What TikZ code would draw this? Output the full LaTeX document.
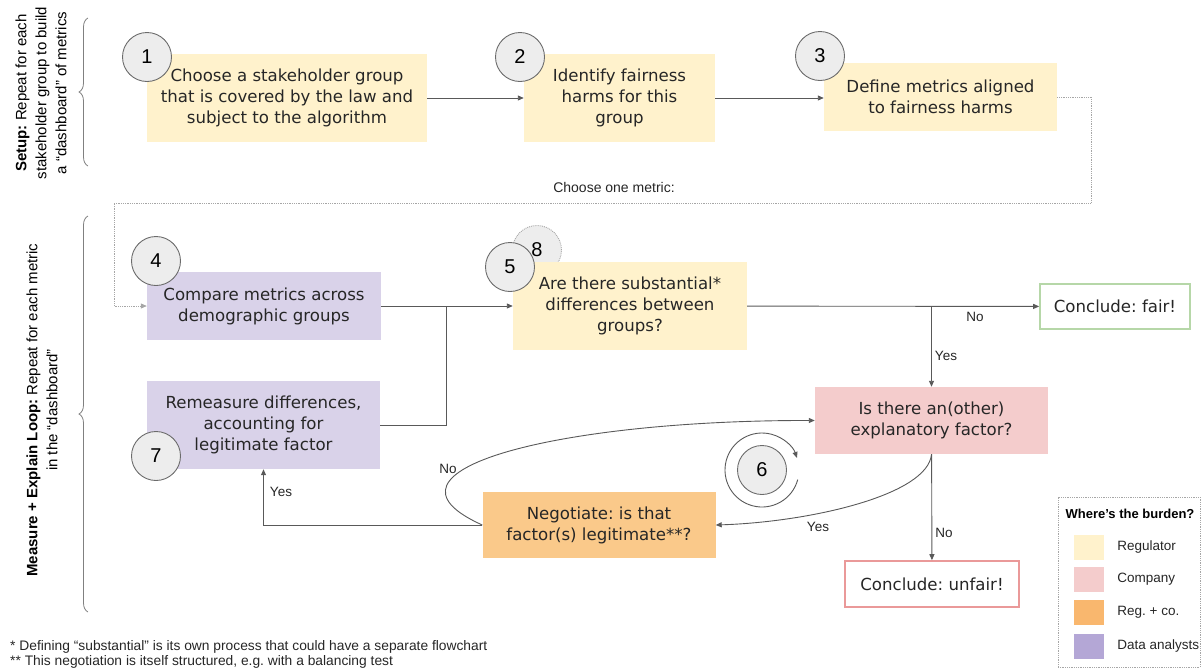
\documentclass[tikz,border=0pt]{standalone}
\usepackage{fontspec}
\setmainfont{Liberation Sans}
\newfontfamily\boxfont{DejaVu Sans}
\usetikzlibrary{positioning,arrows.meta,decorations.pathreplacing}
\definecolor{regyellow}{HTML}{FFF2CC}
\definecolor{copink}{HTML}{F4CCCC}
\definecolor{bothorange}{HTML}{FAC98A}
\definecolor{bothswatch}{HTML}{F9B76E}
\definecolor{analyst}{HTML}{D9D2E9}
\definecolor{analystswatch}{HTML}{B4A7D6}
\definecolor{fairgreen}{HTML}{B6D7A8}
\definecolor{unfairred}{HTML}{EA9999}
\definecolor{linegray}{HTML}{595959}
\definecolor{numgray}{HTML}{6B6B6B}
\definecolor{numfill}{HTML}{EDEDED}
\definecolor{textgray}{HTML}{262626}
\frenchspacing

\begin{document}
\begin{tikzpicture}[x=1pt, y=-1pt,
  font=\fontsize{13.5}{16}\selectfont,
  every node/.style={inner sep=0pt},
  stepbox/.style={align=center, text=textgray, font=\boxfont\fontsize{16.6}{21}\selectfont},
  endbox/.style={stepbox, fill=white, line width=1.6pt},
  num/.style={circle, draw=numgray, fill=numfill, line width=0.9pt, minimum size=49pt, font=\fontsize{20}{20}\selectfont},
  lbl/.style={text=textgray},
  arr/.style={draw=linegray, line width=0.9pt, -{Triangle[length=6pt,width=5pt]}},
  ln/.style={draw=linegray, line width=0.9pt},
  dotarr/.style={draw=gray!70, line width=0.8pt, densely dotted, -{Triangle[length=6pt,width=5pt]}},
  swatch/.style={minimum width=30pt, minimum height=25pt},
  brc/.style={draw=gray, line width=0.8pt, decorate, decoration={brace, amplitude=9pt}},
]
\useasboundingbox (0,0) rectangle (1203,670);

% side labels with braces
\node[rotate=90, align=center, font=\fontsize{15}{20}\selectfont] (setuplbl) at (41,93)
  {\textbf{Setup:} Repeat for each\\stakeholder group to build\\a “dashboard” of metrics};
\node[rotate=90, align=center, font=\fontsize{15}{20}\selectfont] (looplbl) at (42,410)
  {\textbf{Measure + Explain Loop:} Repeat for each metric\\in the “dashboard”};
\draw[brc] (88,166) -- (88,18);
\draw[brc] (88,612) -- (88,216);

% helper circle hidden behind step 5
\node[num, draw=gray!70, densely dotted, fill=numfill] (c8) at (537,250) {8};

% Setup steps
\node[stepbox, fill=regyellow, minimum width=280pt, minimum height=88pt] (b1) at (287,98)
  {Choose a stakeholder group\\that is covered by the law and\\subject to the algorithm};
\node[stepbox, fill=regyellow, minimum width=191pt, minimum height=88pt] (b2) at (619.5,98)
  {Identify fairness\\harms for this\\group};
\node[stepbox, fill=regyellow, minimum width=233pt, minimum height=68pt] (b3) at (940.5,97)
  {Define metrics aligned\\to fairness harms};

% Measure + explain loop
\node[stepbox, fill=analyst, minimum width=234pt, minimum height=68pt] (b4) at (264,306)
  {Compare metrics across\\demographic groups};
\node[stepbox, fill=regyellow, minimum width=234pt, minimum height=88pt] (b5) at (630,306)
  {Are there substantial*\\differences between\\groups?};
\node[stepbox, fill=analyst, minimum width=233pt, minimum height=88pt] (b7) at (263.5,425)
  {Remeasure differences,\\accounting for\\legitimate factor};
\node[stepbox, fill=copink, minimum width=233pt, minimum height=67pt] (expl) at (931.5,420.5)
  {Is there an(other)\\explanatory factor?};
\node[stepbox, fill=bothorange, minimum width=233pt, minimum height=66pt] (neg) at (599,525)
  {Negotiate: is that\\factor(s) legitimate**?};
\node[endbox, draw=fairgreen, minimum width=150pt, minimum height=45pt] (fair) at (1115,306.5)
  {Conclude: fair!};
\node[endbox, draw=unfairred, minimum width=174pt, minimum height=46pt] (unfair) at (932,584)
  {Conclude: unfair!};

% Step numbers
\node[num] (c1) at (147,57) {1};
\node[num] (c2) at (520,57) {2};
\node[num] (c3) at (820,56) {3};
\node[num] (c4) at (156,261) {4};
\node[num] (c5) at (510,267) {5};
\node[num] (c6) at (762,470) {6};
\node[num] (c7) at (156,456) {7};

% Connectors
\draw[arr] (b1) -- (b2);
\draw[arr] (b2.east) -- (b2.east -| b3.west);
\draw[dotarr] (b3.east) -- (1091,97) -- (1091,203) -- (114,203) |- (b4.west);
\node[lbl, font=\fontsize{14}{16}\selectfont] (pickone) at (614,187) {Choose one metric:};
\draw[arr] (b4) -- (b5);
\draw[ln] (b7.east) -| (446,306);
\draw[arr] (b5) -- (fair);
\node[lbl] (nofair) at (975,317) {No};
\draw[arr] (b5.east -| expl.north) -- (expl.north);
\node[lbl] (yesexpl) at (946,356) {Yes};
\draw[arr] (expl) -- (unfair);
\node[lbl] (nounfair) at (944,533) {No};
\draw[arr] (expl.south) .. controls (928,495) and (810,522) .. (neg.east);
\node[lbl] (yesneg) at (818,527) {Yes};
\draw[arr] (neg.west) -| (b7.south);
\node[lbl] (yesb7) at (281,492) {Yes};
\draw[arr] (neg.west) .. controls (360,470) and (560,420) .. (expl.west);
\node[lbl] (noloop) at (448,469) {No};
\draw[arr] ([shift={(15:37)}]c6.center) arc[start angle=15, end angle=341, radius=37];

% Legend
\node[draw=gray!70, densely dotted, line width=0.8pt, minimum width=142pt, minimum height=170pt] (legend) at (1129,582) {};
\node[font=\bfseries\fontsize{13}{15}\selectfont] (legtitle) at (1130,514) {Where's the burden?};
\node[swatch, fill=regyellow] (sw1) at (1089,547) {};
\node[swatch, fill=copink] (sw2) at (1089,579) {};
\node[swatch, fill=bothswatch] (sw3) at (1089,612) {};
\node[swatch, fill=analystswatch] (sw4) at (1089,646) {};
\node[lbl, right=13pt of sw1] (lg1) {Regulator};
\node[lbl, right=13pt of sw2] (lg2) {Company};
\node[lbl, right=13pt of sw3] (lg3) {Reg. + co.};
\node[lbl, right=13pt of sw4] (lg4) {Data analysts};

% Footnotes
\node[lbl, anchor=west, font=\fontsize{13.8}{16}\selectfont] (fn1) at (10,647) {* Defining “substantial” is its own process that could have a separate flowchart};
\node[lbl, anchor=west, font=\fontsize{13.8}{16}\selectfont] (fn2) at (10,662) {** This negotiation is itself structured, e.g. with a balancing test};
\end{tikzpicture}
\end{document}
